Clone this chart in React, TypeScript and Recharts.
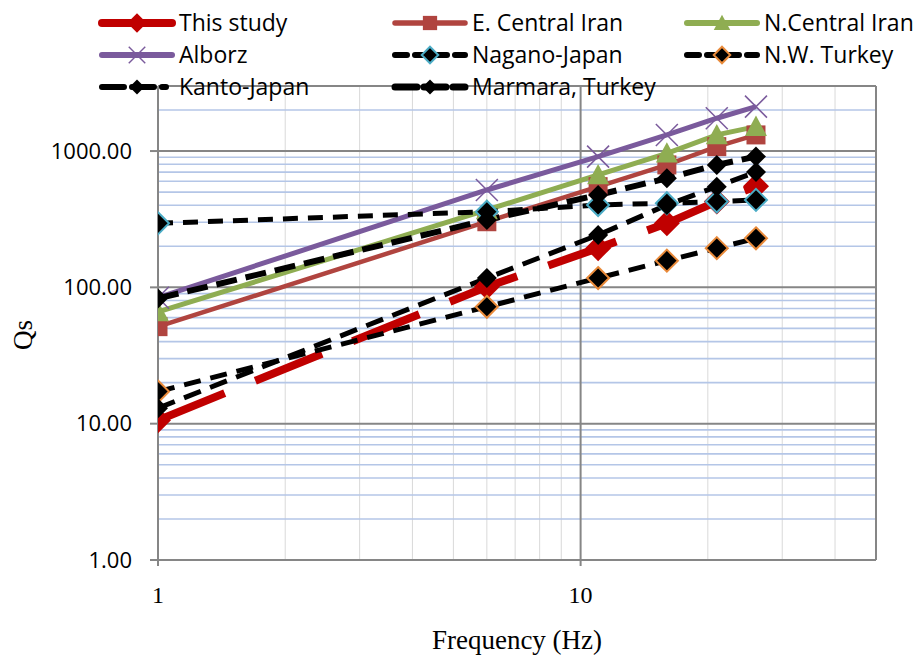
import React from "react";
import { LineChart, Line, XAxis, YAxis, CartesianGrid } from "recharts";

// frequencies (Hz) and Qs values
const freqs = [1, 6, 11, 16, 21, 26];
const thisStudy = [10.6, 101, 194, 295, 426, 552];
const eCentralIran = [51.5, 303, 548, 791, 1077, 1313];
const nCentralIran = [66, 370, 668, 963, 1313, 1511];
const alborz = [84, 518, 910, 1313, 1740, 2118];
const naganoJapan = [295, 359, 402, 414, 426, 438];
const nwTurkey = [17.2, 72, 117, 157, 194, 229];
const kantoJapan = [13, 117, 242, 402, 548, 703];
const marmaraTurkey = [83, 312, 476, 631, 791, 910];

const xTicks = [1, 10];
const yTicks = [1, 10, 100, 1000];
const xMinor = [2, 3, 4, 5, 6, 7, 8, 9, 20, 30, 40, 50];
const yMinor = [
  2, 3, 4, 5, 6, 7, 8, 9, 20, 30, 40, 50, 60, 70, 80, 90, 200, 300, 400, 500,
  600, 700, 800, 900, 2000,
];

const data = freqs.map((f, i) => ({
  f,
  thisStudy: thisStudy[i],
  eCentralIran: eCentralIran[i],
  nCentralIran: nCentralIran[i],
  alborz: alborz[i],
  naganoJapan: naganoJapan[i],
  nwTurkey: nwTurkey[i],
  kantoJapan: kantoJapan[i],
  marmaraTurkey: marmaraTurkey[i],
}));

const SANS = "'Open Sans', sans-serif";
const SERIF = "'Liberation Serif', 'Times New Roman', serif";
const AXIS = "#868686";

type MarkerFn = (cx: number, cy: number, key: string, k?: number) => React.ReactElement;

const diamond =
  (r: number, fill: string, stroke?: string, sw = 0): MarkerFn =>
  (cx, cy, key, k = 1) => {
    const d = r * k;
    return (
      <path
        key={key}
        d={`M${cx},${cy - d}L${cx + d},${cy}L${cx},${cy + d}L${cx - d},${cy}Z`}
        fill={fill}
        stroke={stroke || "none"}
        strokeWidth={sw}
      />
    );
  };

const square =
  (s: number, fill: string): MarkerFn =>
  (cx, cy, key, k = 1) => {
    const h = (s * k) / 2;
    return <rect key={key} x={cx - h} y={cy - h} width={h * 2} height={h * 2} fill={fill} />;
  };

const triangle =
  (s: number, fill: string): MarkerFn =>
  (cx, cy, key, k = 1) => {
    const h = (s * k) / 2;
    return (
      <path key={key} d={`M${cx},${cy - h}L${cx + h},${cy + h * 0.85}L${cx - h},${cy + h * 0.85}Z`} fill={fill} />
    );
  };

const cross =
  (s: number, color: string): MarkerFn =>
  (cx, cy, key, k = 1) => {
    const h = (s * k) / 2;
    return (
      <g key={key} stroke={color} strokeWidth={1.5}>
        <line x1={cx - h} y1={cy - h} x2={cx + h} y2={cy + h} />
        <line x1={cx - h} y1={cy + h} x2={cx + h} y2={cy - h} />
      </g>
    );
  };

type Series = {
  key: string;
  name: string;
  color: string;
  width: number;
  dash?: string;
  legendDash?: string;
  marker: MarkerFn;
  col: number;
  row: number;
};

const series: Series[] = [
  { key: "thisStudy", name: "This study", color: "#c00000", width: 8, dash: "72 33", marker: diamond(13, "#c00000"), col: 0, row: 0 },
  { key: "eCentralIran", name: "E. Central Iran", color: "#b0443f", width: 4.5, marker: square(19, "#b0443f"), col: 1, row: 0 },
  { key: "nCentralIran", name: "N.Central Iran", color: "#8fad52", width: 5, marker: triangle(22, "#8fad52"), col: 2, row: 0 },
  { key: "alborz", name: "Alborz", color: "#7a5a9c", width: 5, marker: cross(22, "#7a5a9c"), col: 0, row: 1 },
  { key: "naganoJapan", name: "Nagano-Japan", color: "#000", width: 5, dash: "15 10", legendDash: "12 8", marker: diamond(11, "#000", "#4bacc6", 2), col: 1, row: 1 },
  { key: "nwTurkey", name: "N.W. Turkey", color: "#000", width: 5, dash: "17 10", legendDash: "12 8", marker: diamond(11, "#000", "#e98a3a", 2), col: 2, row: 1 },
  { key: "kantoJapan", name: "Kanto-Japan", color: "#000", width: 5, dash: "18 10", legendDash: "22 8 22 8 4 50", marker: diamond(10, "#000"), col: 0, row: 2 },
  { key: "marmaraTurkey", name: "Marmara, Turkey", color: "#000", width: 6, dash: "21 9", legendDash: "22 7", marker: diamond(10, "#000"), col: 1, row: 2 },
];

const legendCols = [100, 393, 685];
const legendRows = [23, 55, 87];

const ChartLegend = () => (
  <>
    {series.map((s) => {
      const x0 = legendCols[s.col];
      const cy = legendRows[s.row];
      return (
        <div key={s.key} style={{ position: "absolute", left: x0 - 4, top: cy - 16, height: 32, width: 300 }}>
          <svg width={82} height={32} style={{ position: "absolute", left: 0, top: 0 }}>
            <line
              x1={6}
              y1={16}
              x2={76}
              y2={16}
              stroke={s.color}
              strokeWidth={Math.min(s.width, 7) + 1}
              strokeDasharray={s.legendDash}
              strokeLinecap="round"
            />
            {s.marker(41, 16, "m", 0.75)}
          </svg>
          <div
            style={{
              position: "absolute",
              left: 83,
              top: -1,
              height: 32,
              lineHeight: "32px",
              fontFamily: SANS,
              fontSize: 23,
              color: "#000",
              whiteSpace: "nowrap",
            }}
          >
            {s.name}
          </div>
        </div>
      );
    })}
  </>
);

export default function App() {
  return (
    <div style={{ position: "absolute", left: 0, top: 0, width: 914, height: 659, background: "#fff" }}>
      <LineChart width={914} height={659} data={data} margin={{ top: 86, right: 38, left: 0, bottom: 0 }}>
        <CartesianGrid horizontal={false} verticalValues={xMinor} stroke="#d9d9d9" strokeWidth={1} />
        <CartesianGrid vertical={false} horizontalValues={yMinor} stroke="#b4c6e7" strokeWidth={1.6} />
        <CartesianGrid stroke={AXIS} strokeWidth={2} />
        <XAxis
          dataKey="f"
          type="number"
          scale="log"
          domain={[1, 50]}
          allowDataOverflow
          ticks={xTicks}
          interval={0}
          height={99}
          stroke={AXIS}
          strokeWidth={2}
          tickSize={6}
          tickMargin={20}
          tick={{ fontFamily: SERIF, fontSize: 24, fill: "#000" }}
          label={{
            value: "Frequency (Hz)",
            position: "insideBottom",
            offset: 10,
            style: { fontFamily: SERIF, fontSize: 27, fill: "#000" },
          }}
        />
        <YAxis
          type="number"
          scale="log"
          domain={[1, 3000]}
          allowDataOverflow
          ticks={yTicks}
          interval={0}
          width={158}
          stroke={AXIS}
          strokeWidth={2}
          tickSize={8}
          tickMargin={18}
          tickFormatter={(v: number) => v.toFixed(2)}
          tick={{ fontFamily: SANS, fontSize: 22, fill: "#000" }}
          label={{
            content: () => (
              <text x={32} y={335} transform="rotate(-90 32 335)" textAnchor="middle" fontFamily={SERIF} fontSize={27} fill="#000">
                Qs
              </text>
            ),
          }}
        />
        {series.map((s) => (
          <Line
            key={s.key}
            dataKey={s.key}
            name={s.name}
            stroke={s.color}
            strokeWidth={s.width}
            strokeDasharray={s.dash}
            strokeLinecap="butt"
            type="linear"
            isAnimationActive={false}
            activeDot={false}
            dot={(p: any) => s.marker(p.cx, p.cy, `${s.key}-${p.index}`)}
          />
        ))}
      </LineChart>
      <ChartLegend />
    </div>
  );
}
